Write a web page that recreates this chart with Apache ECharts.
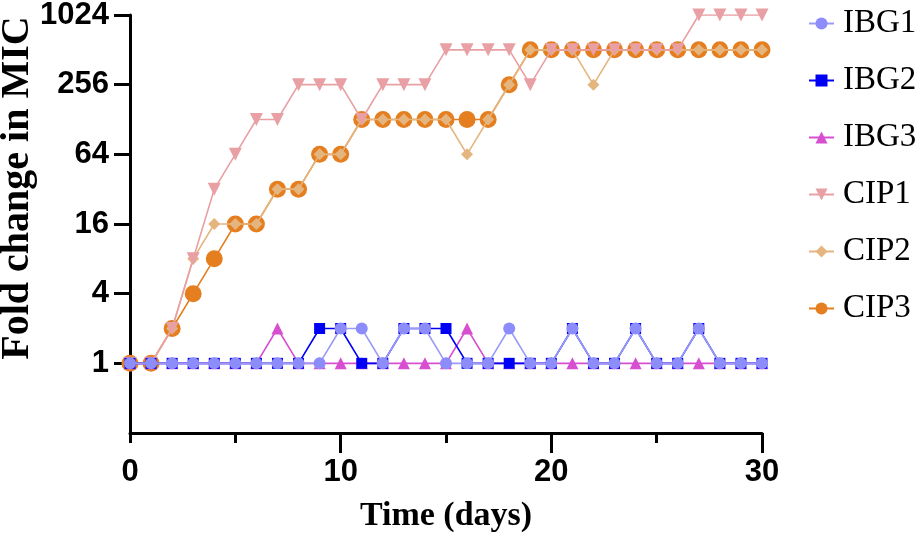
<!DOCTYPE html>
<html>
<head>
<meta charset="utf-8">
<script src="https://cdn.jsdelivr.net/npm/echarts@6/dist/echarts.min.js"></script>
<style>html,body{margin:0;padding:0;background:#fff;}#c{width:922px;height:539px;}</style>
</head>
<body>
<div id="c"></div>
<script>
const days = [0,1,2,3,4,5,6,7,8,9,10,11,12,13,14,15,16,17,18,19,20,21,22,23,24,25,26,27,28,29,30];
const IBG1 = [1,1,1,1,1,1,1,1,1,1,2,2,1,2,2,1,1,1,2,1,1,2,1,1,2,1,1,2,1,1,1];
const IBG2 = [1,1,1,1,1,1,1,1,1,2,2,1,1,2,2,2,1,1,1,1,1,2,1,1,2,1,1,2,1,1,1];
const IBG3 = [1,1,1,1,1,1,1,2,1,1,1,1,1,1,1,1,2,1,1,1,1,1,1,1,1,1,1,1,1,1,1];
const CIP1 = [1,1,2,8,32,64,128,128,256,256,256,128,256,256,256,512,512,512,512,256,512,512,512,512,512,512,512,1024,1024,1024,1024];
const CIP2 = [1,1,2,8,16,16,16,32,32,64,64,128,128,128,128,128,64,128,256,512,512,512,256,512,512,512,512,512,512,512,512];
const CIP3 = [1,1,2,4,8,16,16,32,32,64,64,128,128,128,128,128,128,128,256,512,512,512,512,512,512,512,512,512,512,512,512];
const yTicks = [1,4,16,64,256,1024];
const xMajor = [10,20,30];
const seriesNames = ['IBG1','IBG2','IBG3','CIP1','CIP2','CIP3'];

const seriesData = {IBG1, IBG2, IBG3, CIP1, CIP2, CIP3};
const styles = {
  IBG1: {color:'#8c8cfa', line:'#9a9af8', symbol:'circle', size:12, rotate:0, z:8},
  IBG2: {color:'#0000f5', line:'#0000f5', symbol:'rect', size:11, rotate:0, z:7},
  IBG3: {color:'#d74fd0', line:'#d74fd0', symbol:'triangle', size:12, rotate:0, z:6},
  CIP1: {color:'#e8a0a4', line:'#e8a0a4', symbol:'triangle', size:13, rotate:180, z:5},
  CIP2: {color:'#e4b57e', line:'#e4b57e', symbol:'diamond', size:12, rotate:0, z:4},
  CIP3: {color:'#e47e1f', line:'#e47e1f', symbol:'circle', size:17, rotate:0, z:3}
};

const chart = echarts.init(document.getElementById('c'), null, {renderer:'canvas'});
const axisLine = {show:true, lineStyle:{color:'#000', width:3}};
const tickFont = {fontFamily:'Liberation Sans', fontWeight:'bold', fontSize:31, color:'#000'};

chart.setOption({
  animation:false,
  backgroundColor:'#fff',
  grid:{left:130, right:160, top:15, bottom:106, containLabel:false, outerBoundsMode:'none'},
  legend:{
    orient:'vertical', left:803, top:2, itemWidth:25, itemHeight:15, itemGap:24,
    data:seriesNames,
    textStyle:{fontFamily:'Liberation Serif', fontSize:33, color:'#000', padding:[0,0,0,4]}
  },
  xAxis:[{
    type:'value', min:0, max:30, interval:10, position:'bottom',
    name:'Time (days)', nameLocation:'middle', nameGap:66, nameMoveOverlap:false,
    nameTextStyle:{fontFamily:'Liberation Serif', fontWeight:'bold', fontSize:34, color:'#000'},
    axisLine:axisLine,
    axisTick:{show:true, length:20, customValues:xMajor, lineStyle:{color:'#000', width:3}},
    minorTick:{show:true, splitNumber:2, length:10, lineStyle:{color:'#000', width:3}},
    axisLabel:Object.assign({margin:24}, tickFont),
    splitLine:{show:false}, minorSplitLine:{show:false}
  },{
    type:'value', min:0, max:30, interval:10, position:'bottom',
    axisLine:{show:false},
    axisTick:{show:true, length:10, customValues:[0], lineStyle:{color:'#000', width:3}},
    axisLabel:{show:false}, splitLine:{show:false}
  }],
  yAxis:{
    type:'log', logBase:2, min:0.25, max:1024, interval:2, splitNumber:6,
    name:'Fold change in MIC', nameLocation:'middle', nameGap:92, nameRotate:90, nameMoveOverlap:false,
    nameTextStyle:{fontFamily:'Liberation Serif', fontWeight:'bold', fontSize:40, color:'#000', padding:[0,0,0,72]},
    axisLine:axisLine,
    axisTick:{show:true, length:16, customValues:yTicks, lineStyle:{color:'#000', width:3}},
    axisLabel:Object.assign({margin:21, customValues:yTicks, formatter:v => (v >= 1 ? String(Math.round(v)) : '')}, tickFont),
    splitLine:{show:false}
  },
  series: seriesNames.map(n => ({
    name:n, type:'line', xAxisIndex:0,
    data: days.map((d,i) => [d, seriesData[n][i]]),
    symbol:styles[n].symbol, symbolSize:styles[n].size, symbolRotate:styles[n].rotate,
    showAllSymbol:true, z:styles[n].z,
    itemStyle:{color:styles[n].color},
    lineStyle:{color:styles[n].line, width:1.6},
    emphasis:{disabled:true}
  }))
});
</script>
</body>
</html>
